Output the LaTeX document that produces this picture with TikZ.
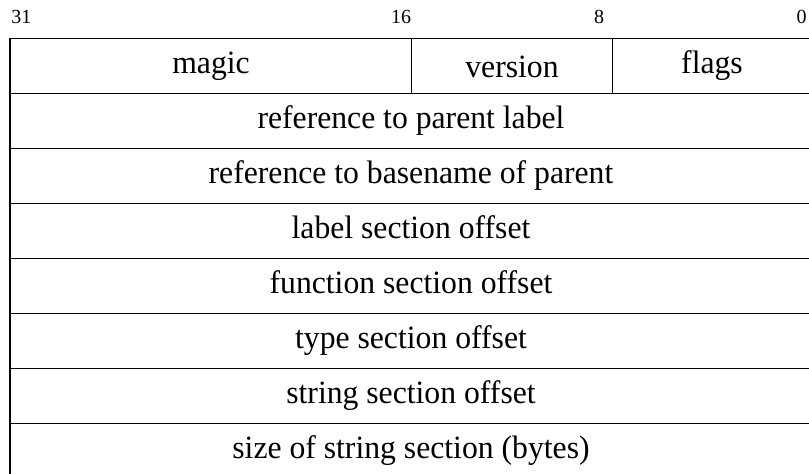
\documentclass[tikz,border=0pt]{standalone}
\usepackage{fontspec}
\setmainfont{Liberation Serif}
\newfontfamily\fieldfont[FakeStretch=0.975]{Liberation Serif}
\begin{document}
\begin{tikzpicture}[x=1pt,y=-1pt,
  rule/.style={line width=1.3pt,black},
  field/.style={inner sep=0pt,anchor=base,font=\fieldfont\fontsize{32.5}{38}\selectfont},
  bitnum/.style={inner sep=0pt,anchor=base,font=\fontsize{20}{24}\selectfont}]
\useasboundingbox (0,0) rectangle (809,474);
\clip (0,0) rectangle (809,474);
% word layout: 32 bits, about 25.1 units per bit, rows of 55
\def\top{38.5}
\def\rh{55}
% bit positions above the word
\node[bitnum] (b31) at (21.5,23.3) {31};
\node[bitnum] (b16) at (401,23.3) {16};
\node[bitnum] (b8)  at (599,23.3) {8};
\node[bitnum] (b0)  at (801.5,23.3) {0};
% frame and row separators
\draw[rule] (10,\top) rectangle (813,{\top+8*\rh});
\foreach \r in {1,...,7}
  \draw[rule] (10,{\top+\r*\rh}) -- (813,{\top+\r*\rh});
\draw[rule] (411.5,\top) -- (411.5,{\top+\rh});
\draw[rule] (612.3,\top) -- (612.3,{\top+\rh});
% first word: magic / version / flags
\node[field] (magic)   at (211,73) {magic};
\node[field] (version) at (512,77.3) {version};
\node[field] (flags)   at (712,73) {flags};
% remaining words
\foreach \r/\name/\txt in {
  1/parlabel/reference to parent label,
  2/parbase/reference to basename of parent,
  3/labeloff/label section offset,
  4/funcoff/function section offset,
  5/typeoff/type section offset,
  6/stroff/string section offset,
  7/strsize/size of string section (bytes)}
  \node[field] (\name) at (411,{\top+\r*\rh+34.5}) {\txt};
\end{tikzpicture}
\end{document}
